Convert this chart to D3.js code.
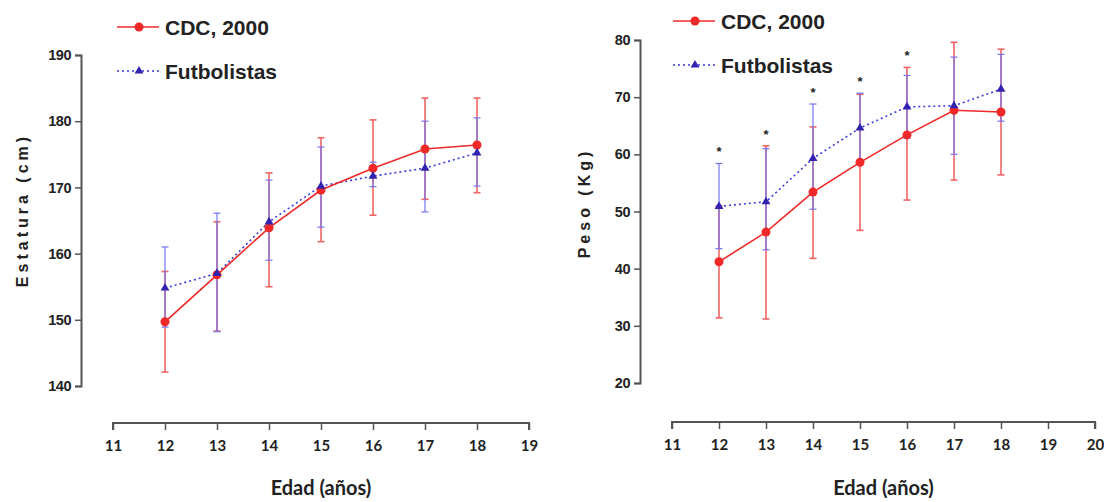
<!DOCTYPE html>
<html>
<head>
<meta charset="utf-8">
<script src="https://cdn.jsdelivr.net/npm/d3@7"></script>
<style>
  body { margin: 0; background: #fff; }
  svg { display: block; }
  text { font-family: "Liberation Sans", Arial, sans-serif; font-weight: bold; fill: #222; }
</style>
</head>
<body>
<svg id="chart" width="1104" height="502"></svg>
<script>
// ages on x axis
const ages = [12, 13, 14, 15, 16, 17, 18];
const sigAges = [12, 13, 14, 15, 16];

// estatura (cm)
const cdcHeight   = [149.7, 156.8, 163.9, 169.6, 172.9, 175.8, 176.4];
const cdcHeightLo = [142.1, 148.3, 155.0, 161.8, 165.8, 168.2, 169.2];
const cdcHeightHi = [157.3, 164.8, 172.2, 177.5, 180.2, 183.5, 183.5];
const futHeight   = [154.8, 157.0, 164.8, 170.2, 171.7, 172.9, 175.2];
const futHeightLo = [148.9, 148.2, 159.0, 164.0, 170.1, 166.3, 170.2];
const futHeightHi = [161.0, 166.1, 171.1, 176.1, 173.8, 180.0, 180.5];

// peso (kg)
const cdcWeight   = [41.2, 46.4, 53.4, 58.6, 63.4, 67.7, 67.4];
const cdcWeightLo = [31.4, 31.2, 41.8, 46.7, 52.0, 55.5, 56.4];
const cdcWeightHi = [51.0, 61.5, 64.8, 70.5, 75.2, 79.6, 78.4];
const futWeight   = [50.9, 51.7, 59.3, 64.6, 68.3, 68.5, 71.4];
const futWeightLo = [43.5, 43.3, 50.4, 58.5, 62.8, 60.0, 65.8];
const futWeightHi = [58.4, 61.0, 68.8, 70.7, 73.8, 77.0, 77.5];

const heightTicks = [140, 150, 160, 170, 180, 190];
const weightTicks = [20, 30, 40, 50, 60, 70, 80];

const RED = '#f02828', RED_BAR = '#f26464';
const BLUE = '#3a3ae0', BLUE_BAR = '#7474ee', BLUE_MARK = '#3222b0';
const AXIS = '#555';

const svg = d3.select('#chart');

function panel(o) {
  const x = d3.scaleLinear().domain(o.xDomain).range(o.xRange);
  const y = d3.scaleLinear().domain(o.yDomain).range(o.yRange);
  const g = svg.append('g');

  // y axis
  const ya = g.append('g')
    .attr('transform', `translate(${o.xRange[0] - o.yAxisGap},0)`)
    .call(d3.axisLeft(y).tickValues(o.yTicks).tickSize(6).tickPadding(4));
  ya.select('.domain').attr('stroke', AXIS).attr('stroke-width', 2);
  ya.selectAll('.tick line').attr('stroke', AXIS).attr('stroke-width', 1.5);
  ya.selectAll('.tick text').attr('font-size', 14.5).attr('fill', '#333')
    .attr('letter-spacing', -0.5)
    .style('font-family', '"Liberation Sans", Arial').style('font-weight', 'bold');

  // x axis
  const xa = g.append('g')
    .attr('transform', `translate(0,${o.xAxisY})`)
    .call(d3.axisBottom(x).tickValues(d3.range(o.xDomain[0], o.xDomain[1] + 1)).tickSize(7).tickSizeOuter(7).tickPadding(10));
  xa.select('.domain').attr('stroke', AXIS).attr('stroke-width', 2)
    .attr('d', `M${o.xRange[0]},7V0H${o.xRange[1]}V7`);
  xa.selectAll('.tick line').attr('stroke', AXIS).attr('stroke-width', 1.5);
  xa.selectAll('.tick text').attr('font-size', 15).attr('fill', '#333')
    .style('font-family', 'Lato, "Open Sans", sans-serif').style('font-weight', 'bold');

  // axis titles
  g.append('text')
    .attr('transform', `translate(${o.yTitleX},${o.yTitleY}) rotate(-90)`)
    .attr('text-anchor', 'middle').attr('font-size', 16).attr('letter-spacing', 4)
    .text(o.yTitle);
  g.append('text')
    .attr('x', (o.xRange[0] + o.xRange[1]) / 2).attr('y', 495)
    .attr('text-anchor', 'middle').attr('font-size', 20)
    .style('font-family', 'Lato, "Open Sans", sans-serif').style('font-weight', 'bold')
    .text('Edad (años)');

  const cap = 3.5;
  function bars(lo, hi, color, w) {
    const bg = g.append('g').attr('stroke', color).attr('stroke-width', w).attr('fill', 'none');
    ages.forEach((a, i) => {
      const cx = x(a);
      bg.append('line').attr('x1', cx).attr('x2', cx).attr('y1', y(lo[i])).attr('y2', y(hi[i]));
      bg.append('line').attr('x1', cx - cap).attr('x2', cx + cap).attr('y1', y(lo[i])).attr('y2', y(lo[i]));
      bg.append('line').attr('x1', cx - cap).attr('x2', cx + cap).attr('y1', y(hi[i])).attr('y2', y(hi[i]));
    });
  }
  bars(o.cdcLo, o.cdcHi, RED_BAR, 1.6);
  bars(o.futLo, o.futHi, BLUE_BAR, 1.2);

  const line = d3.line().x((d, i) => x(ages[i])).y(d => y(d));
  g.append('path').datum(o.fut).attr('d', line).attr('fill', 'none')
    .attr('stroke', BLUE).attr('stroke-width', 1.6).attr('stroke-dasharray', '2,3');
  g.append('path').datum(o.cdc).attr('d', line).attr('fill', 'none')
    .attr('stroke', RED).attr('stroke-width', 1.6);

  g.selectAll('.cdc').data(o.cdc).join('circle')
    .attr('cx', (d, i) => x(ages[i])).attr('cy', d => y(d)).attr('r', 4.5).attr('fill', RED);
  const tri = d3.symbol().type(d3.symbolTriangle).size(34);
  g.selectAll('.fut').data(o.fut).join('path')
    .attr('d', tri).attr('fill', BLUE_MARK)
    .attr('transform', (d, i) => `translate(${x(ages[i])},${y(d)})`);

  // significance marks
  if (o.sig) {
    g.selectAll('.sig').data(o.sig).join('text')
      .attr('x', d => x(d))
      .attr('y', d => { const i = ages.indexOf(d); return y(Math.max(o.cdcHi[i], o.futHi[i])) - 7; })
      .attr('text-anchor', 'middle').attr('font-size', 13).attr('fill', '#222').text('*');
  }

  // legend
  const lg = g.append('g').attr('transform', `translate(${o.legendX},${o.legendY})`);
  lg.append('line').attr('x1', 0).attr('x2', 42).attr('stroke', RED).attr('stroke-width', 1.6);
  lg.append('circle').attr('cx', 22).attr('r', 4.5).attr('fill', RED);
  lg.append('text').attr('x', 48).attr('y', 8).attr('font-size', 21).text('CDC, 2000');
  lg.append('line').attr('x1', 0).attr('x2', 42).attr('y1', 44).attr('y2', 44)
    .attr('stroke', BLUE).attr('stroke-width', 1.6).attr('stroke-dasharray', '2,3');
  lg.append('path').attr('d', tri).attr('fill', BLUE_MARK).attr('transform', 'translate(22,44)');
  lg.append('text').attr('x', 48).attr('y', 52).attr('font-size', 21).text('Futbolistas');
}

panel({
  xDomain: [11, 19], xRange: [113, 529], xAxisY: 423,
  yDomain: [140, 190], yRange: [386, 55], yTicks: heightTicks, yAxisGap: 32,
  yTitle: 'Estatura (cm)', yTitleX: 28, yTitleY: 210,
  cdc: cdcHeight, cdcLo: cdcHeightLo, cdcHi: cdcHeightHi,
  fut: futHeight, futLo: futHeightLo, futHi: futHeightHi,
  legendX: 117, legendY: 27
});

panel({
  xDomain: [11, 20], xRange: [672, 1095], xAxisY: 422,
  yDomain: [20, 80], yRange: [383, 40], yTicks: weightTicks, yAxisGap: 32,
  yTitle: 'Peso (Kg)', yTitleX: 590, yTitleY: 203,
  cdc: cdcWeight, cdcLo: cdcWeightLo, cdcHi: cdcWeightHi,
  fut: futWeight, futLo: futWeightLo, futHi: futWeightHi,
  sig: sigAges,
  legendX: 673, legendY: 21
});
</script>
</body>
</html>
